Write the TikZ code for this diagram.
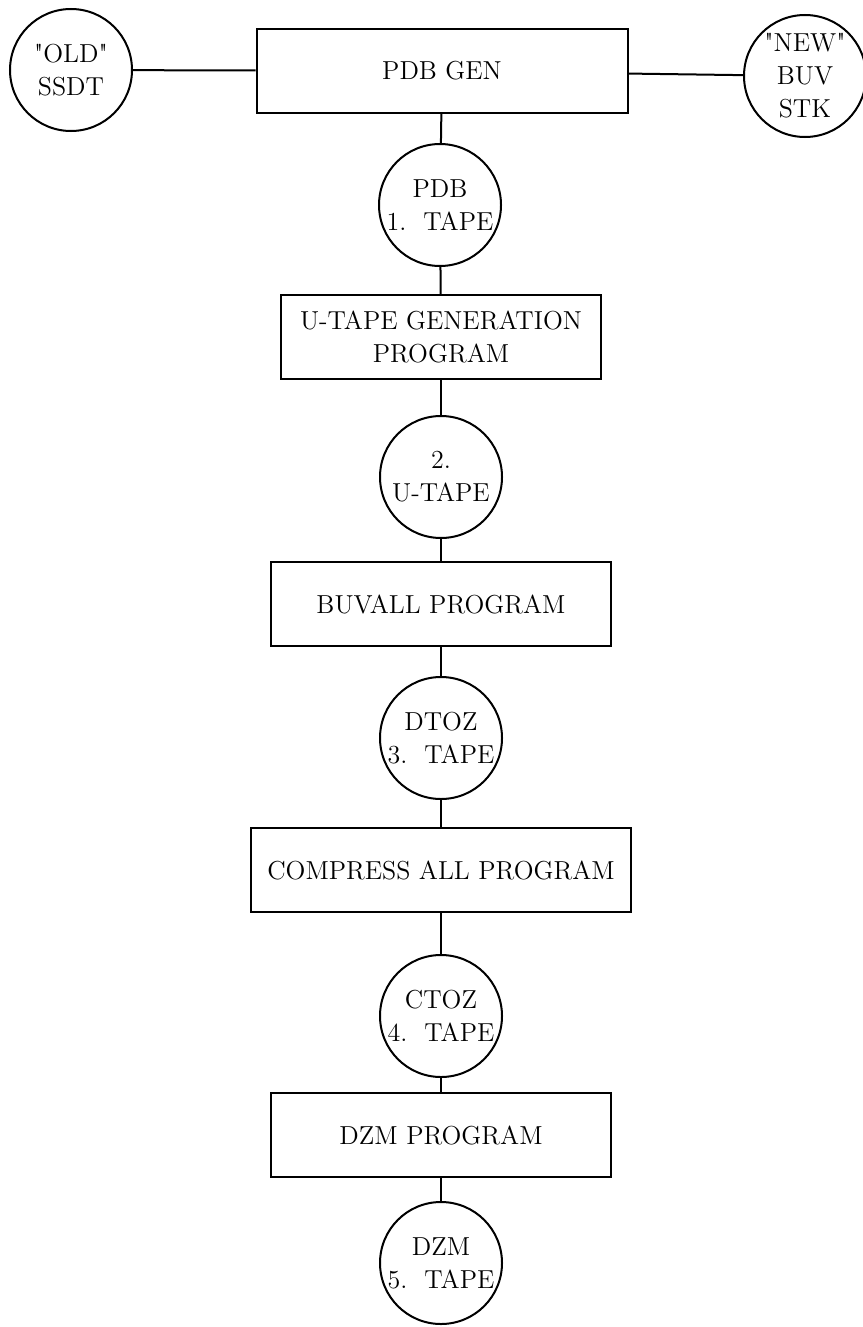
\documentclass[tikz,border=0pt]{standalone}
\usepackage{amsmath}
\usepackage{amssymb}
\usepackage{tikz}

\begin{document}
\begin{tikzpicture}[x=0.5pt,y=-0.5pt,auto=center,line width=1pt,
	prog/.style={draw,rectangle,minimum height=42pt,align=center,font=\fontsize{13}{16.5}\selectfont},
	tape/.style={draw,circle,minimum size=61pt,inner sep=0pt,align=center,font=\fontsize{13}{16.5}\selectfont}]
			\useasboundingbox (0,0) rectangle (862,1327);
			\node[tape] (old) at (71,70) {\textquotedbl OLD\textquotedbl\\SSDT};
			\node[prog,minimum width=185.5pt] (gen) at (442,71) {PDB GEN};
			\node[tape] (new) at (805,76) {\textquotedbl NEW\textquotedbl\\BUV\\STK};
			\node[tape] (pdb) at (440,205) {PDB\\1.\ \ TAPE};
			\node[prog,minimum width=160pt] (ugen) at (441,337) {U-TAPE GENERATION\\PROGRAM};
			\node[tape] (utape) at (441,477) {2.\\U-TAPE};
			\node[prog,minimum width=170pt] (buvall) at (441,604) {BUVALL PROGRAM};
			\node[tape] (dtoz) at (441,738) {DTOZ\\3.\ \ TAPE};
			\node[prog,minimum width=190pt] (comp) at (441,870) {COMPRESS ALL PROGRAM};
			\node[tape] (ctoz) at (441,1016) {CTOZ\\4.\ \ TAPE};
			\node[prog,minimum width=170pt] (dzmprog) at (441,1135) {DZM PROGRAM};
			\node[tape] (dzm) at (441,1263) {DZM\\5.\ \ TAPE};
			\draw (old) -- (gen);
			\draw (gen) -- (new);
			\draw (gen) -- (pdb);
			\draw (pdb) -- (ugen);
			\draw (ugen) -- (utape);
			\draw (utape) -- (buvall);
			\draw (buvall) -- (dtoz);
			\draw (dtoz) -- (comp);
			\draw (comp) -- (ctoz);
			\draw (ctoz) -- (dzmprog);
			\draw (dzmprog) -- (dzm);
		\end{tikzpicture}
\end{document}
